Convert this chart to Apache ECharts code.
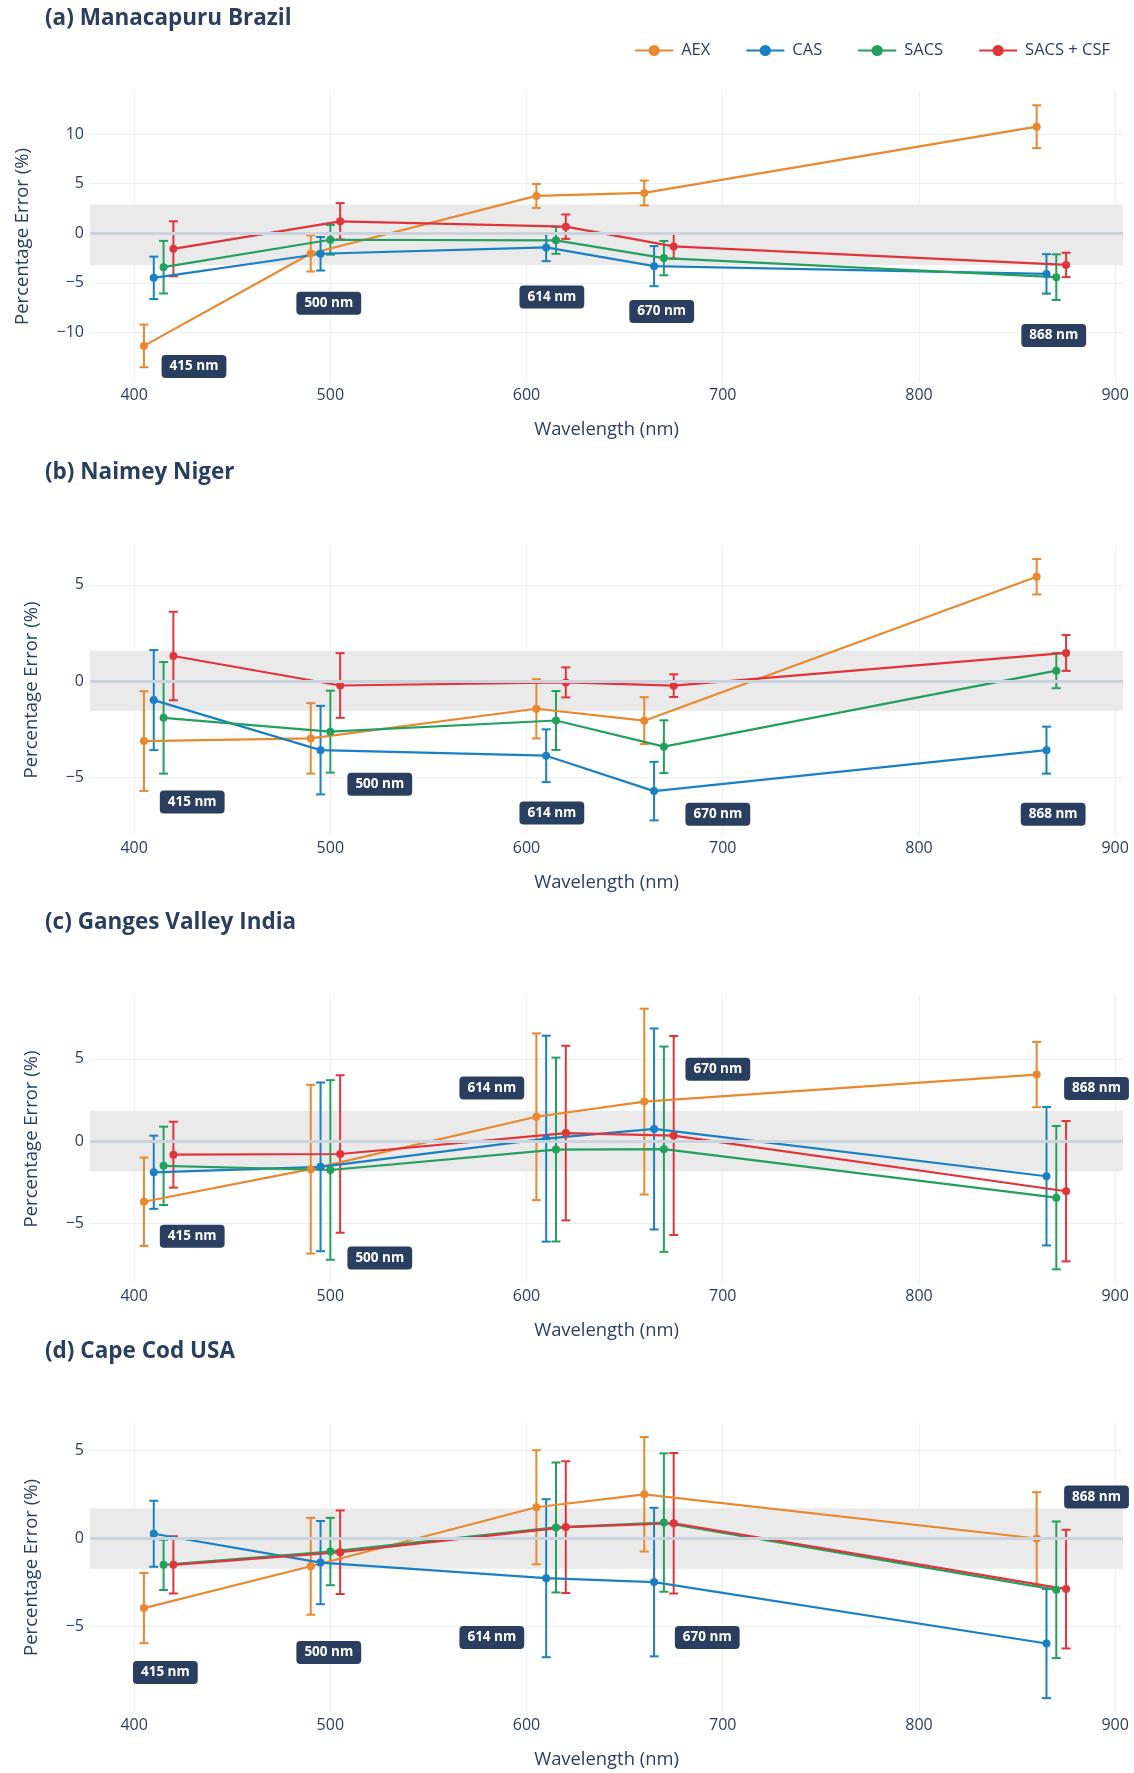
<!DOCTYPE html>
<html>
<head>
<meta charset="utf-8">
<script src="https://cdn.jsdelivr.net/npm/echarts@6/dist/echarts.min.js"></script>
<style>
html, body { margin: 0; padding: 0; background: #fff; }
#main { width: 1134px; height: 1773px; }
</style>
</head>
<body>
<div id="main"></div>
<script>
// wavelength of each point (products are shifted a few nm so the bars don't overlap)
var xAEX = [405, 490, 605, 660, 860];
var xCAS = [410, 495, 610, 665, 865];
var xSACS = [415, 500, 615, 670, 870];
var xCSF = [420, 505, 620, 675, 875];

var seriesNames = ['AEX', 'CAS', 'SACS', 'SACS + CSF'];
var panelTitles = ['(a) Manacapuru Brazil', '(b) Naimey Niger', '(c) Ganges Valley India', '(d) Cape Cod USA'];
var bandLabels = ['415 nm', '500 nm', '614 nm', '670 nm', '868 nm'];

// (a) Manacapuru Brazil
var aexA = [-11.36, -2.04, 3.76, 4.06, 10.74];
var aexAErr = [2.15, 1.82, 1.21, 1.25, 2.16];
var casA = [-4.5, -2.07, -1.43, -3.32, -4.1];
var casAErr = [2.14, 1.69, 1.38, 2.02, 1.99];
var sacsA = [-3.42, -0.66, -0.72, -2.51, -4.43];
var sacsAErr = [2.65, 1.5, 1.36, 1.73, 2.3];
var csfA = [-1.57, 1.2, 0.66, -1.33, -3.2];
var csfAErr = [2.77, 1.84, 1.23, 1.25, 1.23];

// (b) Naimey Niger
var aexB = [-3.12, -2.98, -1.44, -2.06, 5.42];
var aexBErr = [2.59, 1.83, 1.54, 1.22, 0.92];
var casB = [-0.99, -3.59, -3.88, -5.72, -3.59];
var casBErr = [2.6, 2.3, 1.37, 1.52, 1.22];
var sacsB = [-1.91, -2.63, -2.05, -3.41, 0.54];
var sacsBErr = [2.9, 2.13, 1.53, 1.37, 0.91];
var csfB = [1.3, -0.23, -0.07, -0.24, 1.46];
var csfBErr = [2.3, 1.68, 0.78, 0.59, 0.93];

// (c) Ganges Valley India
var aexC = [-3.67, -1.69, 1.49, 2.41, 4.05];
var aexCErr = [2.68, 5.12, 5.06, 5.64, 1.98];
var casC = [-1.88, -1.55, 0.16, 0.75, -2.12];
var casCErr = [2.22, 5.12, 6.25, 6.1, 4.2];
var sacsC = [-1.49, -1.74, -0.5, -0.48, -3.42];
var sacsCErr = [2.38, 5.45, 5.58, 6.23, 4.35];
var csfC = [-0.81, -0.77, 0.5, 0.35, -3.03];
var csfCErr = [2.0, 4.78, 5.3, 6.04, 4.26];

// (d) Cape Cod USA
var aexD = [-3.98, -1.6, 1.76, 2.5, -0.02];
var aexDErr = [2.0, 2.76, 3.25, 3.26, 2.64];
var casD = [0.25, -1.39, -2.28, -2.5, -6.0];
var casDErr = [1.88, 2.37, 4.5, 4.23, 3.11];
var sacsD = [-1.52, -0.76, 0.61, 0.89, -2.94];
var sacsDErr = [1.43, 1.92, 3.7, 3.94, 3.89];
var csfD = [-1.52, -0.8, 0.63, 0.85, -2.9];
var csfDErr = [1.63, 2.38, 3.75, 4.0, 3.38];

// grey accuracy band per panel
var bandA = [-3.2, 2.9];
var bandB = [-1.55, 1.58];
var bandC = [-1.82, 1.84];
var bandD = [-1.74, 1.7];

// where the wavelength tags sit (data units)
var annA = [[430.5, -13.44], [499.2, -7.07], [612.9, -6.44], [668.9, -7.88], [868.7, -10.31]];
var annB = [[429.6, -6.29], [525.2, -5.36], [612.9, -6.86], [697.5, -6.92], [868.4, -6.92]];
var annC = [[429.6, -5.77], [525.2, -7.08], [582.3, 3.23], [697.5, 4.38], [890.5, 3.21]];
var annD = [[415.9, -7.65], [499.2, -6.51], [582.3, -5.66], [692.1, -5.66], [890.5, 2.35]];

var xRange = [377.5, 904];
var yRangeA = [-15, 14.34];
var yRangeB = [-8, 7.07];
var yRangeC = [-8.6, 8.88];
var yRangeD = [-9.9, 6.56];

var FONT = '"Open Sans", sans-serif';
var INK = '#2a3f5f';
var colors = ['#e8892f', '#1a80c4', '#23a05e', '#e0343b'];
var xs = [xAEX, xCAS, xSACS, xCSF];

var panels = [
    {vals: [aexA, casA, sacsA, csfA], errs: [aexAErr, casAErr, sacsAErr, csfAErr], band: bandA, yr: yRangeA, ann: annA},
    {vals: [aexB, casB, sacsB, csfB], errs: [aexBErr, casBErr, sacsBErr, csfBErr], band: bandB, yr: yRangeB, ann: annB},
    {vals: [aexC, casC, sacsC, csfC], errs: [aexCErr, casCErr, sacsCErr, csfCErr], band: bandC, yr: yRangeC, ann: annC},
    {vals: [aexD, casD, sacsD, csfD], errs: [aexDErr, casDErr, sacsDErr, csfDErr], band: bandD, yr: yRangeD, ann: annD}
];
var gridTop = [91, 545, 995, 1423];
var gridH = [291, 290, 288, 289];
var titleY = [21, 475, 925, 1354];
var yNameGap = [58, 49, 49, 49];

function minusSign(v) {
    return String(v).replace('-', '\u2212');
}

// vertical error bar with caps
function errRender(params, api) {
    var x = api.value(0);
    var top = api.coord([x, api.value(2)]);
    var bot = api.coord([x, api.value(1)]);
    var w = 4.5;
    var style = {stroke: api.visual('color'), lineWidth: 2, fill: null};
    return {
        type: 'group',
        children: [
            {type: 'line', shape: {x1: top[0], y1: top[1], x2: bot[0], y2: bot[1]}, style: style},
            {type: 'line', shape: {x1: top[0] - w, y1: top[1], x2: top[0] + w, y2: top[1]}, style: style},
            {type: 'line', shape: {x1: bot[0] - w, y1: bot[1], x2: bot[0] + w, y2: bot[1]}, style: style}
        ]
    };
}

var option = {
    animation: false,
    backgroundColor: '#fff',
    textStyle: {fontFamily: FONT},
    title: [],
    grid: [],
    xAxis: [],
    yAxis: [],
    series: [],
    legend: {
        data: seriesNames,
        top: 42,
        right: 24,
        padding: 0,
        itemGap: 35,
        itemWidth: 38,
        itemHeight: 14,
        textStyle: {fontFamily: FONT, fontSize: 16.5, color: INK, padding: [0, 0, 0, 3]}
    }
};

panels.forEach(function (p, i) {
    option.title.push({
        text: panelTitles[i],
        left: 45,
        top: titleY[i] - 14,
        padding: 0,
        textStyle: {fontFamily: FONT, fontSize: 22.5, fontWeight: 'bold', color: INK}
    });
    option.grid.push({left: 90, right: 11, top: gridTop[i], height: gridH[i]});
    option.xAxis.push({
        type: 'value',
        gridIndex: i,
        min: xRange[0],
        max: xRange[1],
        minInterval: 100,
        maxInterval: 100,
        name: 'Wavelength (nm)',
        nameLocation: 'middle',
        nameGap: 39,
        nameTextStyle: {fontFamily: FONT, fontSize: 18.4, color: INK},
        axisLine: {show: false},
        axisTick: {show: false},
        axisLabel: {showMinLabel: false, showMaxLabel: false, margin: 5, fontFamily: FONT, fontSize: 16, color: INK},
        splitLine: {show: true, showMinLine: false, showMaxLine: false, lineStyle: {color: '#ebf0f8', width: 1}}
    });
    option.yAxis.push({
        type: 'value',
        gridIndex: i,
        min: p.yr[0],
        max: p.yr[1],
        minInterval: 5,
        maxInterval: 5,
        name: 'Percentage Error (%)',
        nameLocation: 'middle',
        nameGap: yNameGap[i],
        nameTextStyle: {fontFamily: FONT, fontSize: 18.5, color: INK},
        axisLine: {show: false},
        axisTick: {show: false},
        axisLabel: {showMinLabel: false, showMaxLabel: false, margin: 6, fontFamily: FONT, fontSize: 16, color: INK, formatter: minusSign},
        splitLine: {show: true, showMinLine: false, showMaxLine: false, lineStyle: {color: '#ebf0f8', width: 1}}
    });

    // band + zero line
    option.series.push({
        type: 'line',
        name: 'band',
        xAxisIndex: i,
        yAxisIndex: i,
        data: [],
        z: 1,
        silent: true,
        markArea: {
            silent: true,
            itemStyle: {color: '#eaeaea'},
            data: [[{yAxis: p.band[0]}, {yAxis: p.band[1]}]]
        },
        markLine: {
            silent: true,
            symbol: 'none',
            label: {show: false},
            lineStyle: {color: '#cbd3de', width: 3, type: 'solid'},
            data: [{yAxis: 0}]
        }
    });

    seriesNames.forEach(function (name, k) {
        var errData = xs[k].map(function (x, j) {
            return [x, p.vals[k][j] - p.errs[k][j], p.vals[k][j] + p.errs[k][j]];
        });
        option.series.push({
            type: 'custom',
            name: name + ' error',
            xAxisIndex: i,
            yAxisIndex: i,
            renderItem: errRender,
            itemStyle: {color: colors[k]},
            encode: {x: 0, y: [1, 2]},
            data: errData,
            z: 3,
            silent: true
        });
        option.series.push({
            type: 'line',
            name: name,
            xAxisIndex: i,
            yAxisIndex: i,
            data: xs[k].map(function (x, j) { return [x, p.vals[k][j]]; }),
            symbol: 'circle',
            symbolSize: 8,
            showSymbol: true,
            lineStyle: {color: colors[k], width: 2.2},
            itemStyle: {color: colors[k]},
            emphasis: {disabled: true},
            z: 3
        });
    });

    // wavelength tags
    option.series.push({
        type: 'scatter',
        name: 'tags',
        xAxisIndex: i,
        yAxisIndex: i,
        symbolSize: 0,
        silent: true,
        z: 10,
        itemStyle: {opacity: 1},
        data: p.ann.map(function (c, j) { return {name: bandLabels[j], value: c}; }),
        label: {
            show: true,
            position: 'inside',
            formatter: '{b}',
            fontFamily: FONT,
            fontSize: 13.5,
            fontWeight: 'bold',
            color: '#fff',
            opacity: 1,
            backgroundColor: '#2a3f5f',
            borderRadius: 4,
            padding: [5, 8, 4, 8]
        }
    });
});

var chart = echarts.init(document.getElementById('main'));
chart.setOption(option);
</script>
</body>
</html>
